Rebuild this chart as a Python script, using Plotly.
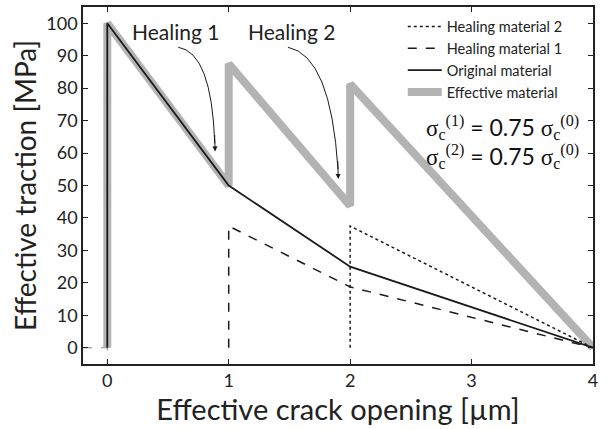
import plotly.graph_objects as go

# Data (effective crack opening [µm], effective traction [MPa])
orig_x = [0, 0, 1, 2, 4]
orig_y = [0, 100, 50, 25, 0]
heal1_x = [1, 1, 2, 4]
heal1_y = [0, 37.5, 18.75, 0]
heal2_x = [2, 2, 4]
heal2_y = [0, 37.5, 0]
eff_x = [0, 0, 1, 1, 2, 2, 4]
eff_y = [0, 100, 50, 87.5, 43.75, 81.25, 0]

x_range = [-0.2, 4]
y_range = [-5, 105]
x_ticks = [0, 1, 2, 3, 4]
y_ticks = [0, 10, 20, 30, 40, 50, 60, 70, 80, 90, 100]

FONT = "Lato"

fig = go.Figure()
# reference dashed guides at origin
fig.add_trace(go.Scatter(x=[x_range[0], 0, 0], y=[0, 0, y_range[0]], mode="lines",
                         line=dict(color="#888888", width=1, dash="dash"),
                         showlegend=False, hoverinfo="skip"))
fig.add_trace(go.Scatter(x=eff_x, y=eff_y, mode="lines", name="Effective material",
                         legendgroup="e", line=dict(color="#b3b3b3", width=8)))
fig.add_trace(go.Scatter(x=orig_x, y=orig_y, mode="lines", name="Original material",
                         legendgroup="o", line=dict(color="#1a1a1a", width=1.8)))
fig.add_trace(go.Scatter(x=heal1_x, y=heal1_y, mode="lines", name="Healing material 1",
                         legendgroup="h1", line=dict(color="#1a1a1a", width=1.5, dash="dash")))
fig.add_trace(go.Scatter(x=heal2_x, y=heal2_y, mode="lines", name="Healing material 2",
                         legendgroup="h2", line=dict(color="#1a1a1a", width=1.5, dash="dot")))

# curved arrows
fig.add_shape(type="path", path="M 0.584,92.6 Q 0.86,91 0.885,63",
              line=dict(color="#1a1a1a", width=1), xref="x", yref="y")
fig.add_shape(type="path", path="M 1.488,92.6 Q 1.84,90 1.90,55",
              line=dict(color="#1a1a1a", width=1), xref="x", yref="y")
fig.add_annotation(x=0.888, y=60.5, ax=0.884, ay=66, xref="x", yref="y", axref="x", ayref="y",
                   showarrow=True, arrowhead=2, arrowsize=1, arrowwidth=1, arrowcolor="#1a1a1a", text="")
fig.add_annotation(x=1.902, y=52, ax=1.898, ay=58, xref="x", yref="y", axref="x", ayref="y",
                   showarrow=True, arrowhead=2, arrowsize=1, arrowwidth=1, arrowcolor="#1a1a1a", text="")

fig.add_annotation(x=0.56, y=97.5, xref="x", yref="y", text="Healing 1", showarrow=False,
                   font=dict(family=FONT, size=21, color="#222"))
fig.add_annotation(x=1.52, y=97.5, xref="x", yref="y", text="Healing 2", showarrow=False,
                   font=dict(family=FONT, size=21, color="#222"))

sig = '<span style="font-family:Liberation Serif">σ</span>'
def lab(n):
    return (sig + '<sub><span style="font-family:Liberation Serif">c</span></sub>'
            '<sup><span style="font-family:Liberation Serif">(%d)</span></sup>' % n
            + ' = 0.75 ' + sig +
            '<sub><span style="font-family:Liberation Serif">c</span></sub>'
            '<sup><span style="font-family:Liberation Serif">(0)</span></sup>')
fig.add_annotation(x=3.9, y=68, xref="x", yref="y", text=lab(1), showarrow=False,
                   xanchor="right", font=dict(family=FONT, size=23, color="#111"))
fig.add_annotation(x=3.9, y=59, xref="x", yref="y", text=lab(2), showarrow=False,
                   xanchor="right", font=dict(family=FONT, size=23, color="#111"))

axis_common = dict(showline=True, linecolor="#222", linewidth=1.5, mirror="ticks",
                   ticks="inside", ticklen=5, tickcolor="#222", showgrid=False, zeroline=False,
                   automargin=False,
                   tickfont=dict(family=FONT, size=18, color="#222"))
fig.update_xaxes(range=x_range, tickvals=x_ticks, **axis_common,
                 title=dict(text="Effective crack opening [µm]", font=dict(family=FONT, size=29, color="#222"), standoff=6))
fig.update_yaxes(range=y_range, tickvals=y_ticks, **axis_common,
                 title=dict(text="Effective traction [MPa]", font=dict(family=FONT, size=28, color="#222"), standoff=2))

fig.update_layout(
    width=608, height=429,
    margin=dict(l=83, r=15, t=7, b=65),
    plot_bgcolor="white", paper_bgcolor="white",
    legend=dict(x=0.627, y=0.99, xanchor="left", yanchor="top", traceorder="reversed",
                font=dict(family=FONT, size=14.5, color="#222"), bgcolor="rgba(0,0,0,0)",
                itemwidth=34, tracegroupgap=3),
    showlegend=True,
)
fig.write_html("out.html", config={"displayModeBar": False},
               post_script="document.body.style.margin='0';")
